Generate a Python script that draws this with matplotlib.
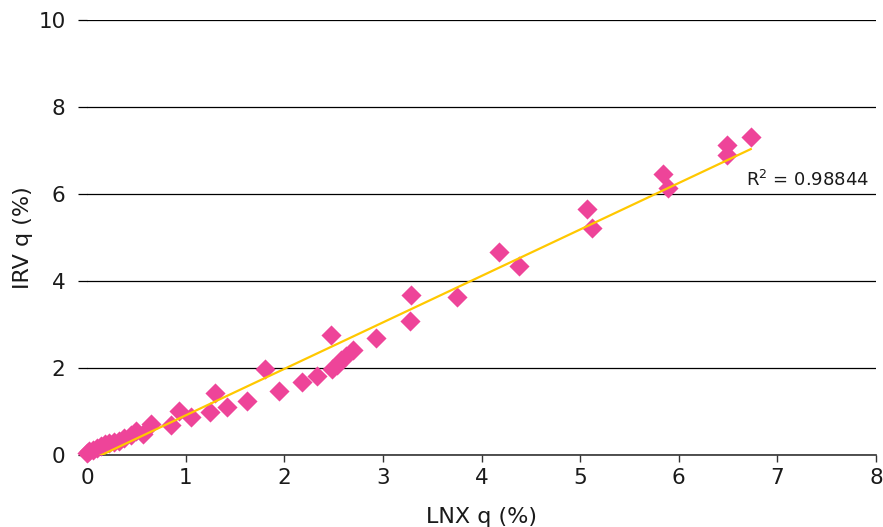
import numpy as np
import matplotlib
matplotlib.use("Agg")
import matplotlib.pyplot as plt

lnx = [0.0, 0.02, 0.06, 0.1, 0.14, 0.18, 0.22, 0.27, 0.32, 0.38, 0.45, 0.5, 0.57, 0.65,
       0.85, 0.93, 1.05, 1.25, 1.3, 1.42, 1.62, 1.8, 1.95, 2.18, 2.33, 2.47, 2.48, 2.53,
       2.58, 2.63, 2.7, 2.93, 3.28, 3.29, 3.75, 4.18, 4.38, 5.07, 5.12, 5.84, 5.89,
       6.49, 6.49, 6.73]
irv = [0.05, 0.1, 0.12, 0.15, 0.2, 0.25, 0.28, 0.3, 0.33, 0.4, 0.45, 0.55, 0.48, 0.72,
       0.7, 1.02, 0.87, 0.98, 1.42, 1.1, 1.25, 1.98, 1.48, 1.68, 1.82, 2.76, 1.98, 2.07,
       2.18, 2.28, 2.41, 2.68, 3.09, 3.68, 3.64, 4.67, 4.34, 5.65, 5.21, 6.45, 6.13,
       6.90, 7.12, 7.30]
r2_text = "R$^2$ = 0.98844"
xticks = [0, 1, 2, 3, 4, 5, 6, 7, 8]
yticks = [0, 2, 4, 6, 8, 10]

plt.rcParams['font.family'] = ['DejaVu Sans']
fig = plt.figure(figsize=(8.83, 5.27), dpi=100)
ax = fig.add_axes([87/883, 1-455/527, (876-87)/883, (455-20)/527])

x = np.array(lnx); y = np.array(irv)
slope, inter = np.polyfit(x, y, 1)
xl = np.array([0, x.max()])
ax.scatter(x, y, marker='D', s=105, color='#EE4499', zorder=3, linewidths=0)
ax.plot(xl, slope*xl + inter, color='#FFC800', lw=1.6, zorder=4)

ax.set_xlim(0, 8)
ax.set_ylim(0, 10)
ax.set_xticks(xticks)
ax.set_yticks(yticks)
ax.yaxis.grid(True, color='black', lw=0.9)
ax.set_axisbelow(True)
for s in ['top', 'right', 'left']:
    ax.spines[s].set_visible(False)
ax.spines['bottom'].set_color('#333333')
ax.spines['bottom'].set_linewidth(1.2)
ax.tick_params(axis='y', length=6.5, width=0.9, color='black', labelsize=15.5, pad=9, labelcolor='#1a1a1a')
ax.tick_params(axis='x', length=5, width=1, color='#333333', labelsize=15.5, pad=4, labelcolor='#1a1a1a')
ax.set_xlabel('LNX q (%)', fontsize=16, labelpad=14, color='#1a1a1a')
ax.set_ylabel('IRV q (%)', fontsize=16, labelpad=4, color='#1a1a1a')
ax.text(7.93, 6.32, r2_text, fontsize=13, ha='right', va='center', color='#1a1a1a')
for c in ax.collections:
    c.set_clip_on(False)
fig.savefig('out.png', dpi=100)
